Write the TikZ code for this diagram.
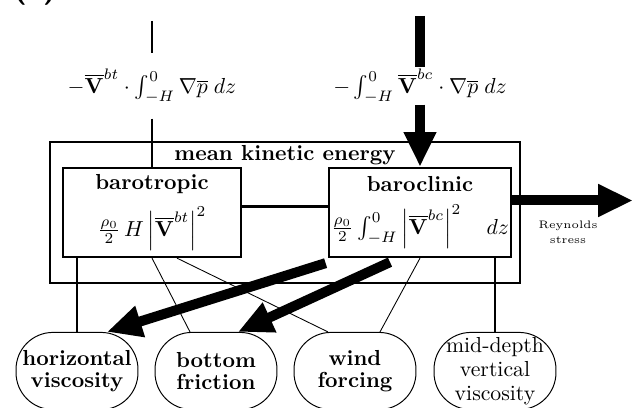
\documentclass[tikz,border=0pt]{standalone}
\usepackage{amsmath,amssymb}
\usepackage{tikz}
\usetikzlibrary{calc,arrows.meta,positioning}

\begin{document}
\begin{tikzpicture}[x=0.46pt,y=-0.46pt,
  ebox/.style={draw, line width=1.1pt, minimum width=81.9pt, minimum height=40.9pt, inner sep=1pt, align=center},
  sink/.style={draw, line width=0.45pt, rounded corners=17pt, minimum width=56.1pt, minimum height=35.5pt, inner sep=1pt, align=center},
  link/.style={line width=1.1pt},
  thinlink/.style={line width=0.4pt},
  bigline/.style={line width=4.6pt},
  bigflow/.style={line width=4.6pt, -{Triangle[length=16pt,width=14pt]}},
  ]
\useasboundingbox (0,0) rectangle (638,408);
\node[anchor=base, font=\sffamily\bfseries\Large] (panel) at (35,-2) {(a)};

% energy reservoirs
\node[draw, line width=1.1pt, minimum width=216.2pt, minimum height=64.9pt] (mke) at (285,212.5) {};
\node[anchor=north, inner sep=2pt, font=\bfseries] (mketitle) at (mke.north) {mean kinetic energy};
\node[ebox] (barotropic) at (152,212.5) {\textbf{barotropic}\\[5pt]
  $\frac{\rho_0}{2}\,H\left|\overline{\mathbf{V}}^{bt}\right|^2$};
\node[ebox] (baroclinic) at (420,212.5) {\textbf{baroclinic}\\[5pt]
  $\frac{\rho_0}{2}\int_{-H}^{0}\left|\overline{\mathbf{V}}^{bc}\right|^2\quad dz$};

% sinks
\node[sink, font=\bfseries] (hvisc) at (77,371) {horizontal\\[-2pt]viscosity};
\node[sink, font=\bfseries] (bfric) at (216,371) {bottom\\[-2pt]friction};
\node[sink, font=\bfseries] (wind) at (355,371) {wind\\[-2pt]forcing};
\node[sink] (mvisc) at (495,371) {mid-depth\\[-1pt]vertical\\[-1pt]viscosity};

% pressure work
\coordinate (bttop) at (152,21);
\coordinate (bctop) at (420,16);
\node[inner sep=7pt] (btflux) at (152,86)
  {$-\overline{\mathbf{V}}^{bt}\cdot\int_{-H}^{0}\nabla\overline{p}\;dz$};
\node[inner sep=0.5pt] (bcflux) at (420,86)
  {$-\int_{-H}^{0}\overline{\mathbf{V}}^{bc}\cdot\nabla\overline{p}\;dz$};
\draw[link] (bttop) -- (btflux);
\draw[link] (btflux) -- (barotropic);
\draw[bigline] (bctop) -- (bcflux);
\draw[bigflow] (bcflux) -- (baroclinic);

% exchanges
\draw[link] ($(barotropic.east)+(0,-6)$) -- ($(baroclinic.west)+(0,-6)$);
\coordinate (reytip) at (633,200.5);
\draw[bigflow] ($(baroclinic.east)+(0,-12)$) -- (reytip);
\node[font=\tiny, align=center] (reynolds) at (568,232) {Reynolds\\[1pt]stress};

\draw[link] (hvisc.north) -- (hvisc.north |- barotropic.south);
\draw[link] (mvisc.north) -- (mvisc.north |- baroclinic.south);
\draw[thinlink] (barotropic.south) -- ($(bfric.north)+(-26,0)$);
\draw[thinlink] ($(barotropic.south)+(25,0)$) -- ($(wind.north)+(-27,0)$);
\draw[thinlink] (baroclinic.south) -- ($(wind.north)+(25,0)$);
\draw[bigflow] ($(baroclinic.south west)+(-2,5)$) -- ($(hvisc.north)+(30,0)$);
\draw[bigflow] ($(baroclinic.south)+(-30,4)$) -- ($(bfric.north)+(22,0)$);
\end{tikzpicture}
\end{document}
